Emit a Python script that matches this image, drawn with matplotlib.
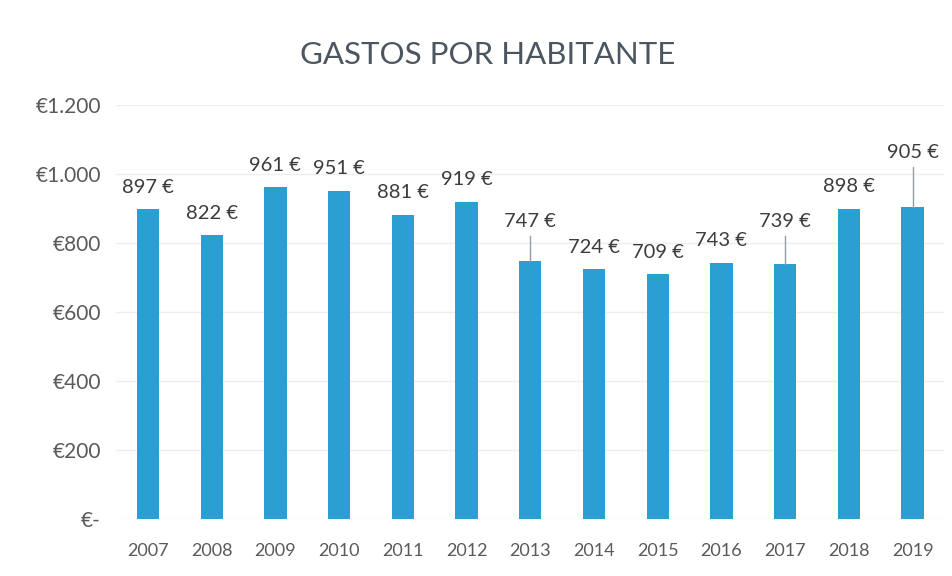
import matplotlib
matplotlib.use("Agg")
import matplotlib.pyplot as plt

years = ["2007", "2008", "2009", "2010", "2011", "2012", "2013",
         "2014", "2015", "2016", "2017", "2018", "2019"]
values = [897, 822, 961, 951, 881, 919, 747, 724, 709, 743, 739, 898, 905]
yticks = [0, 200, 400, 600, 800, 1000, 1200]
ytick_labels = ["€-", "€200", "€400", "€600", "€800", "€1.000", "€1.200"]
# label vertical offsets (in data units) for labels moved with leader lines
extra_offset = {6: 50, 10: 58, 12: 92}

plt.rcParams['font.family'] = ['Lato', 'DejaVu Sans']

fig = plt.figure(figsize=(9.52, 5.76), dpi=100)
ax = fig.add_axes([0.122, 0.099, 0.870, 0.719])

x = list(range(len(years)))
ax.bar(x, values, width=0.35, color="#2a9fd1", zorder=3)

ax.set_xlim(-0.5, len(years) - 0.5)
ax.set_ylim(0, 1200)
ax.set_yticks(yticks)
ax.set_yticklabels(ytick_labels)
ax.set_xticks(x)
ax.set_xticklabels(years)
ax.tick_params(axis='both', length=0, colors="#5a5a5a")
ax.tick_params(axis='y', pad=11, labelsize=15)
ax.tick_params(axis='x', pad=17, labelsize=13)
for s in ax.spines.values():
    s.set_visible(False)
ax.grid(axis='y', color="#eeeeee", linewidth=1, zorder=0)

base = 64
for i, v in enumerate(values):
    off = base + extra_offset.get(i, 0)
    ax.text(i, v + off, f"{v} €", ha='center', va='center',
            fontsize=14.5, color="#3c3c3c", zorder=4)
    if i in extra_offset:
        ax.plot([i, i], [v, v + off - 40], color="#8f9ea8", linewidth=1, zorder=4)

fig.text(0.512, 0.905, "GASTOS POR HABITANTE", ha='center', va='center',
         fontsize=22.5, color="#4b5660")

fig.savefig("out.png", dpi=100)
